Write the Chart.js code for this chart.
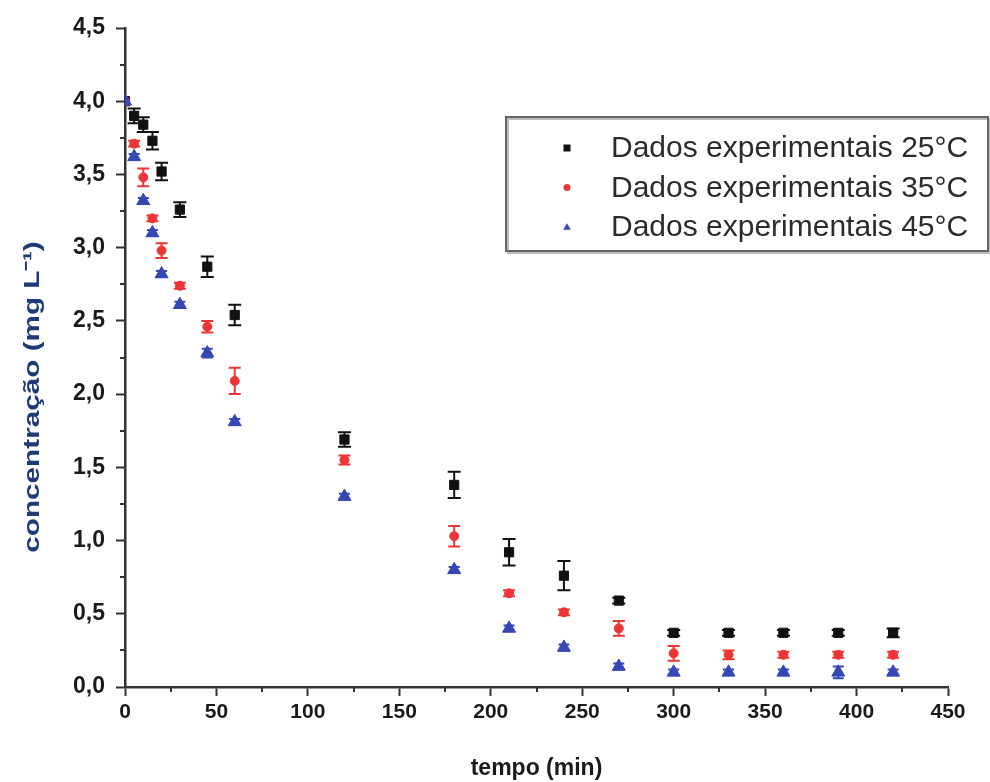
<!DOCTYPE html>
<html>
<head>
<meta charset="utf-8">
<script src="https://cdn.jsdelivr.net/npm/chart.js@4.4.0/dist/chart.umd.min.js"></script>
<style>
  html, body { margin: 0; padding: 0; background: #fff; }
  #wrap { position: relative; width: 990px; height: 782px; }
</style>
</head>
<body>
<div id="wrap"><canvas id="chart" width="990" height="782"></canvas></div>
<script>
// --- Data ---
const times = [0, 5, 10, 15, 20, 30, 45, 60, 120, 180, 210, 240, 270, 300, 330, 360, 390, 420];

const conc25 = [4.00, 3.90, 3.84, 3.73, 3.52, 3.26, 2.87, 2.54, 1.69, 1.38, 0.92, 0.76, 0.59, 0.37, 0.37, 0.37, 0.37, 0.37];
const err25  = [0.00, 0.05, 0.05, 0.06, 0.06, 0.05, 0.07, 0.07, 0.05, 0.09, 0.09, 0.10, 0.02, 0.02, 0.02, 0.02, 0.02, 0.03];

const conc35 = [4.00, 3.71, 3.48, 3.20, 2.98, 2.74, 2.46, 2.09, 1.55, 1.03, 0.64, 0.51, 0.40, 0.23, 0.22, 0.22, 0.22, 0.22];
const err35  = [0.00, 0.02, 0.06, 0.02, 0.05, 0.02, 0.04, 0.09, 0.03, 0.07, 0.02, 0.02, 0.05, 0.05, 0.03, 0.02, 0.02, 0.02];

const conc45 = [4.00, 3.62, 3.32, 3.10, 2.82, 2.61, 2.28, 1.81, 1.30, 0.80, 0.40, 0.27, 0.14, 0.10, 0.10, 0.10, 0.10, 0.10];
const err45  = [0.00, 0.02, 0.02, 0.02, 0.02, 0.02, 0.03, 0.02, 0.02, 0.02, 0.02, 0.02, 0.02, 0.02, 0.02, 0.02, 0.04, 0.02];

const seriesLabels = ['Dados experimentais 25°C', 'Dados experimentais 35°C', 'Dados experimentais 45°C'];
const xTicks = [0, 50, 100, 150, 200, 250, 300, 350, 400, 450];
const yTicks = [0, 0.5, 1.0, 1.5, 2.0, 2.5, 3.0, 3.5, 4.0, 4.5];

const xTitle = 'tempo (min)';
const yTitle = 'concentração (mg L⁻¹)';

const toPoints = (vals) => vals.map((v, i) => ({ x: times[i], y: v }));

// --- Plugins ---
const errorBars = {
    id: 'errorBars',
    beforeDatasetsDraw(chart) {
        const ctx = chart.ctx;
        const yScale = chart.scales.y;
        chart.data.datasets.forEach((ds, di) => {
            const meta = chart.getDatasetMeta(di);
            ctx.save();
            ctx.strokeStyle = ds.backgroundColor;
            ctx.lineWidth = 2;
            meta.data.forEach((pt, i) => {
                const e = ds.errors[i];
                if (!e) return;
                const v = ds.data[i].y;
                const top = yScale.getPixelForValue(v + e);
                const bot = yScale.getPixelForValue(v - e);
                const half = ds.capWidth / 2;
                ctx.beginPath();
                ctx.moveTo(pt.x, top); ctx.lineTo(pt.x, bot);
                ctx.moveTo(pt.x - half, top); ctx.lineTo(pt.x + half, top);
                ctx.moveTo(pt.x - half, bot); ctx.lineTo(pt.x + half, bot);
                ctx.stroke();
            });
            ctx.restore();
        });
    }
};

const minorTicks = {
    id: 'minorTicks',
    afterDraw(chart) {
        const ctx = chart.ctx;
        const { x, y } = chart.scales;
        const area = chart.chartArea;
        ctx.save();
        ctx.strokeStyle = '#333';
        ctx.lineWidth = 2;
        ctx.beginPath();
        for (let v = 25; v < 450; v += 50) {
            const px = Math.round(x.getPixelForValue(v));
            ctx.moveTo(px, area.bottom); ctx.lineTo(px, area.bottom + 5);
        }
        for (let v = 0.25; v < 4.5; v += 0.5) {
            const py = Math.round(y.getPixelForValue(v));
            ctx.moveTo(area.left, py); ctx.lineTo(area.left - 5, py);
        }
        ctx.stroke();
        ctx.restore();
    }
};

// y title drawn by hand: sits lower than the axis middle and is stretched along its length
const yAxisTitle = {
    id: 'yAxisTitle',
    afterDraw(chart) {
        const ctx = chart.ctx;
        ctx.save();
        ctx.translate(33, 397);
        ctx.rotate(-Math.PI / 2);
        ctx.scale(1.35, 1);
        ctx.font = 'bold 22px "Liberation Sans", Arial, sans-serif';
        ctx.fillStyle = '#1d3b78';
        ctx.textAlign = 'center';
        ctx.textBaseline = 'middle';
        ctx.fillText(yTitle, 0, 0);
        ctx.restore();
    }
};

function drawMarker(ctx, style, cx, cy, r, color) {
    ctx.fillStyle = color;
    ctx.beginPath();
    if (style === 'rect') {
        ctx.rect(cx - r, cy - r, 2 * r, 2 * r);
    } else if (style === 'circle') {
        ctx.arc(cx, cy, r, 0, Math.PI * 2);
    } else {
        ctx.moveTo(cx, cy - r * 1.1);
        ctx.lineTo(cx + r * 1.1, cy + r * 0.8);
        ctx.lineTo(cx - r * 1.1, cy + r * 0.8);
        ctx.closePath();
    }
    ctx.fill();
}

const boxLegend = {
    id: 'boxLegend',
    afterDraw(chart) {
        const ctx = chart.ctx;
        ctx.save();
        ctx.fillStyle = '#fff';
        ctx.fillRect(506, 117, 482, 134);
        ctx.strokeStyle = '#bbb';
        ctx.lineWidth = 2;
        ctx.strokeRect(508, 119, 482, 134);
        ctx.strokeStyle = '#666';
        ctx.strokeRect(506, 117, 482, 134);
        ctx.font = '30px "Liberation Sans", Arial, sans-serif';
        ctx.textBaseline = 'middle';
        chart.data.datasets.forEach((ds, i) => {
            const cy = 148 + i * 39.5;
            drawMarker(ctx, ds.pointStyle, 567, cy, 3.5, ds.backgroundColor);
            ctx.fillStyle = '#2b2b2b';
            ctx.fillText(ds.label, 611, cy + 1);
        });
        ctx.restore();
    }
};

// --- Chart ---
const fontFamily = '"Liberation Sans", Arial, sans-serif';

new Chart(document.getElementById('chart'), {
    type: 'scatter',
    data: {
        datasets: [
            { label: seriesLabels[0], data: toPoints(conc25), errors: err25, capWidth: 13,
              backgroundColor: '#111111', borderColor: '#111111', pointStyle: 'rect', pointRadius: 6.5, order: 3 },
            { label: seriesLabels[1], data: toPoints(conc35), errors: err35, capWidth: 12,
              backgroundColor: '#ee3535', borderColor: '#ee3535', pointStyle: 'circle', pointRadius: 4.5, order: 2 },
            { label: seriesLabels[2], data: toPoints(conc45), errors: err45, capWidth: 11,
              backgroundColor: '#3347b5', borderColor: '#3347b5', pointStyle: 'triangle', pointRadius: 7.5, order: 1 }
        ]
    },
    options: {
        responsive: false,
        animation: false,
        events: [],
        layout: { padding: { top: 28, right: 42, left: 0, bottom: 0 } },
        plugins: { legend: { display: false }, tooltip: { enabled: false } },
        scales: {
            x: {
                type: 'linear', min: 0, max: 450,
                afterBuildTicks: (s) => { s.ticks = xTicks.map(v => ({ value: v })); },
                afterFit: (s) => { s.height = 95; },
                grid: { drawOnChartArea: false, drawTicks: true, tickLength: 9, tickWidth: 2, tickColor: '#333' },
                border: { display: true, color: '#333', width: 2.5 },
                ticks: { font: { family: fontFamily, size: 21, weight: 'bold' }, color: '#1a1a1a', padding: 4, maxRotation: 0 },
                title: { display: true, text: xTitle, color: '#1a1a1a', padding: { top: 0, bottom: 0 },
                         font: { family: fontFamily, size: 23, weight: 'bold' } }
            },
            y: {
                type: 'linear', min: 0, max: 4.5,
                afterBuildTicks: (s) => { s.ticks = yTicks.map(v => ({ value: v })); },
                afterFit: (s) => { s.width = 125; },
                grid: { drawOnChartArea: false, drawTicks: true, tickLength: 9, tickWidth: 2, tickColor: '#333' },
                border: { display: true, color: '#333', width: 2.5 },
                ticks: { font: { family: fontFamily, size: 23, weight: 'bold' }, color: '#1a1a1a', padding: 11,
                         callback: (v) => v.toFixed(1).replace('.', ',') }
            }
        }
    },
    plugins: [errorBars, minorTicks, yAxisTitle, boxLegend]
});
</script>
</body>
</html>
